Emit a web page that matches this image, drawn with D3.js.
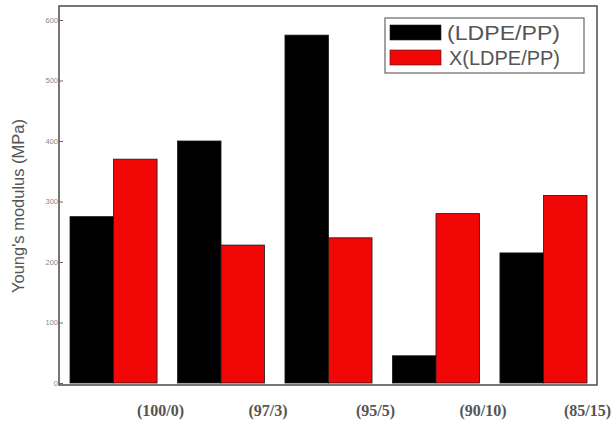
<!DOCTYPE html>
<html>
<head>
<meta charset="utf-8">
<script src="https://cdn.jsdelivr.net/npm/d3@7/dist/d3.min.js"></script>
<style>
  html, body { margin: 0; padding: 0; background: #fff; }
  svg { display: block; }
</style>
</head>
<body>
<svg id="chart" width="614" height="422"></svg>
<script>
// Blend ratios (LDPE/PP) and Young's modulus values (MPa)
const categories = ["(100/0)", "(97/3)", "(95/5)", "(90/10)", "(85/15)"];
const seriesNames = ["(LDPE/PP)", "X(LDPE/PP)"];
const plainValues = [275, 400, 575, 45, 215];
const crosslinkedValues = [370, 228, 240, 280, 310];
const yTicks = [0, 100, 200, 300, 400, 500, 600];
const colors = ["#000000", "#f20707"];

const width = 614;
const svg = d3.select("#chart");
const frame = { left: 59, right: 597, top: 6, bottom: 385 };

const y = d3.scaleLinear().domain([0, 600]).range([383, 20]);
const x0 = d3.scaleBand().domain(categories).range([70, 587]).paddingInner(0.19).paddingOuter(0);
const x1 = d3.scaleBand().domain(seriesNames).range([0, x0.bandwidth()]).padding(0);

const rows = categories.map((c, i) => ({ cat: c, vals: [plainValues[i], crosslinkedValues[i]] }));

// Bars
const groups = svg.append("g").selectAll("g").data(rows).join("g")
  .attr("transform", d => `translate(${x0(d.cat)},0)`);
groups.selectAll("rect")
  .data(d => d.vals.map((v, j) => ({ name: seriesNames[j], v, j })))
  .join("rect")
  .attr("x", d => x1(d.name))
  .attr("y", d => y(d.v))
  .attr("width", x1.bandwidth())
  .attr("height", d => y(0) - y(d.v))
  .attr("fill", d => colors[d.j])
  .attr("stroke", "#1a1a1a")
  .attr("stroke-width", 0.8);

// Plot frame
svg.append("rect")
  .attr("x", frame.left).attr("y", frame.top)
  .attr("width", frame.right - frame.left)
  .attr("height", frame.bottom - frame.top)
  .attr("fill", "none").attr("stroke", "#4a4a4a").attr("stroke-width", 1.5);

// Y axis
const yAxis = d3.axisLeft(y).tickValues(yTicks).tickSize(-4).tickPadding(3);
const gy = svg.append("g").attr("transform", `translate(${frame.left},0)`).call(yAxis);
gy.select(".domain").remove();
gy.selectAll(".tick line").attr("stroke", "#666");
gy.selectAll(".tick text")
  .attr("font-family", "Liberation Sans, Arial, sans-serif")
  .attr("font-size", 7.5).attr("fill", "#8a8a8a")
  .attr("dx", 2);

// Y axis title
svg.append("text")
  .attr("transform", "translate(24,206) rotate(-90)")
  .attr("text-anchor", "middle")
  .attr("font-family", "Liberation Sans, Arial, sans-serif")
  .attr("font-size", 16.5).attr("fill", "#555")
  .text("Young's modulus (MPa)");

// Category labels, set to the right of each bar pair, kept inside the canvas
const catLabels = svg.append("g").selectAll("text").data(categories).join("text")
  .attr("y", 416)
  .attr("text-anchor", "middle")
  .attr("font-family", "Liberation Serif, Times New Roman, serif")
  .attr("font-weight", "bold")
  .attr("font-size", 16).attr("fill", "#555")
  .text(d => d);
catLabels.attr("x", function (d) {
  const half = this.getComputedTextLength() / 2;
  return Math.min(x0(d) + x0.bandwidth() / 2 + 47, width - 3 - half);
});

// Legend
const legend = svg.append("g");
legend.append("rect")
  .attr("x", 385).attr("y", 18).attr("width", 199).attr("height", 55)
  .attr("fill", "#fff").attr("stroke", "#666").attr("stroke-width", 1.2);
const items = legend.selectAll("g").data(seriesNames).join("g")
  .attr("transform", (d, i) => `translate(390,${25 + i * 25})`);
items.append("rect")
  .attr("width", 51).attr("height", 15)
  .attr("fill", (d, i) => colors[i]).attr("stroke", "#222").attr("stroke-width", 0.6);
items.append("text")
  .attr("x", (d, i) => i === 0 ? 57 : 59).attr("y", 14.5)
  .attr("font-family", "Liberation Sans, Arial, sans-serif")
  .attr("font-size", 21).attr("fill", "#555")
  .attr("textLength", (d, i) => i === 0 ? 113 : 111)
  .attr("lengthAdjust", "spacingAndGlyphs")
  .text(d => d);
</script>
</body>
</html>
